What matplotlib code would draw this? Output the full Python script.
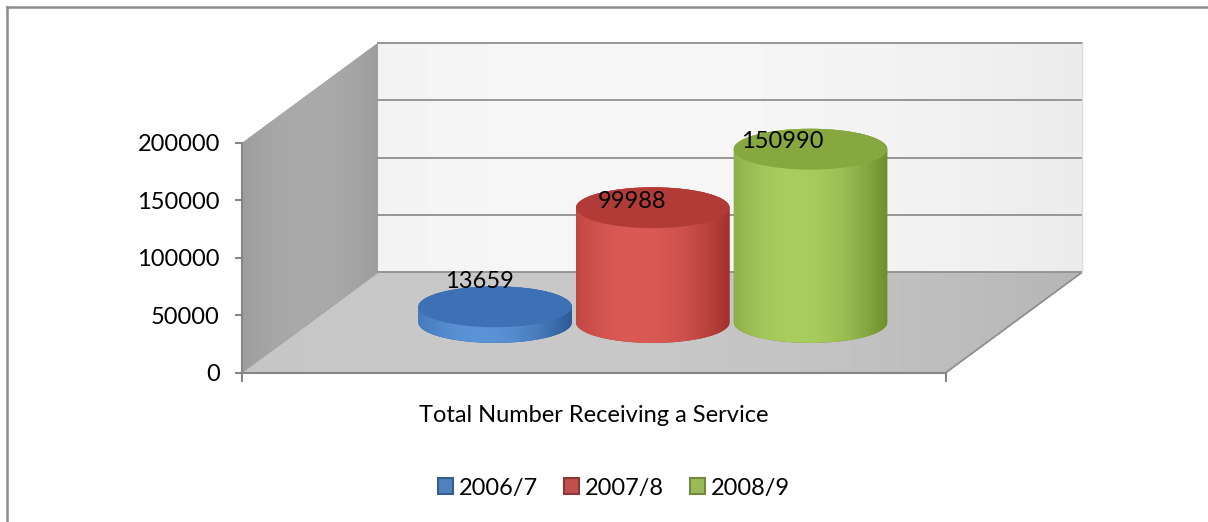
import numpy as np
import matplotlib
matplotlib.use("Agg")
import matplotlib.pyplot as plt
from matplotlib.patches import Polygon, Ellipse, Patch
from matplotlib.lines import Line2D
from matplotlib.colors import to_rgb

plt.rcParams['font.family'] = ['Lato', 'DejaVu Sans']

category = "Total Number Receiving a Service"
seasons = ["2006/7", "2007/8", "2008/9"]
totals = [13659, 99988, 150990]
yticks = [0, 50000, 100000, 150000, 200000]

top_colors = ["#3d70b4", "#b23b37", "#86a83e"]
side_dark = ["#2b5895", "#a2302d", "#6e8d2b"]
side_light = ["#5a93d6", "#db5a55", "#aacd5f"]
legend_fill = ["#4f81bd", "#c0504d", "#9bbb59"]
legend_edge = ["#385d8a", "#8c3836", "#71893f"]

W, H = 1208, 522
# front face of the plot box in pixels: left, right, value-0 row, value-max row
BOX_L, BOX_R, BOX_B, BOX_T = 242, 946, 372.5, 143

# fake 3d box: depth offset of the back plane, cylinder sizes
VMAX = yticks[-1]
DX = 0.193
DY = 0.436 * VMAX
HALF_W = 0.109
RIM = 0.089 * VMAX
STEP = 0.224
SHIFT = -0.013
label_nudge = [(-16, 25), (-21, 6), (-28, 8)]  # px
FS = 17
GRID = "#8f8f8f"

fig = plt.figure(figsize=(W / 100, H / 100), dpi=100)
ax = fig.add_axes([0, 0, 1, 1])
ax.patch.set_visible(False)
xs_px = 1 / (BOX_R - BOX_L)
ys_px = VMAX / (BOX_B - BOX_T)
XLIM = (-BOX_L * xs_px, (W - BOX_L) * xs_px)
YLIM = (-(H - BOX_B) * ys_px, BOX_B * ys_px)


def shade(verts, dark, light, peak=0.4, z=1):
    patch = Polygon(verts, closed=True, fc=dark, ec="none", zorder=z)
    ax.add_patch(patch)
    t = np.linspace(0, 1, 256)
    w = np.clip(1 - ((t - peak) / max(peak, 1 - peak)) ** 2, 0, 1)
    c0, c1 = np.array(to_rgb(dark)), np.array(to_rgb(light))
    row = c0 + (c1 - c0) * w[:, None]
    xs, ys = np.asarray(verts)[:, 0], np.asarray(verts)[:, 1]
    im = ax.imshow(row[None, :, :], extent=[xs.min(), xs.max(), ys.min(), ys.max()],
                   origin="lower", aspect="auto", interpolation="bilinear", zorder=z)
    im.set_clip_path(patch)


# walls and floor
shade([(DX, DY), (1 + DX, DY), (1 + DX, VMAX + DY), (DX, VMAX + DY)],
      "#ececec", "#f7f7f7", peak=0.35, z=1)
shade([(0, 0), (0, VMAX), (DX, VMAX + DY), (DX, DY)],
      "#9d9d9d", "#aaaaaa", peak=0.5, z=1)
shade([(0, 0), (1, 0), (1 + DX, DY), (DX, DY)],
      "#b6b6b6", "#c9c9c9", peak=0.3, z=1)

for v in yticks:
    ax.plot([DX, 1 + DX], [v + DY, v + DY], color=GRID, lw=1.3, zorder=2)
ax.plot([1, 1 + DX], [0, DY], color=GRID, lw=1.3, zorder=2)
ax.plot([1 + DX, 1 + DX], [DY, VMAX + DY], color="#dcdcdc", lw=1, zorder=2)
ax.plot([0, DX], [0, DY], color="#a3a3a3", lw=0.8, zorder=2)

# cylinders
th = np.linspace(np.pi, 2 * np.pi, 80)
for i, v in enumerate(totals):
    cx = 0.5 + SHIFT + (i - 1) * STEP + DX / 2
    base = DY / 2
    top = base + v
    lower = np.column_stack([cx + HALF_W * np.cos(th), base + RIM * np.sin(th)])
    upper = np.column_stack([cx - HALF_W * np.cos(th), top - RIM * np.sin(th)])
    side = np.vstack([[(cx - HALF_W, top)], lower, [(cx + HALF_W, top)], upper])
    z = 3 + i
    shade(side, side_dark[i], side_light[i], peak=0.4, z=z)
    ax.add_patch(Ellipse((cx, top), 2 * HALF_W, 2 * RIM, fc=top_colors[i], ec="none",
                         zorder=z + 0.5))
    dx, dy = label_nudge[i]
    ax.annotate(f"{v}", xy=(cx, top), xytext=(dx * 0.72, dy * 0.72),
                textcoords="offset points", ha="center", va="center",
                fontsize=FS, zorder=10)

ax.set_xlim(*XLIM)
ax.set_ylim(*YLIM)

for s in ["top", "right"]:
    ax.spines[s].set_visible(False)
ax.spines["left"].set_position(("data", 0))
ax.spines["left"].set_bounds(0, VMAX)
ax.spines["bottom"].set_position(("data", 0))
ax.spines["bottom"].set_bounds(0, 1)
for s in ["left", "bottom"]:
    ax.spines[s].set_color("#868686")
    ax.spines[s].set_linewidth(1.5)
    ax.spines[s].set_zorder(2.5)

ax.set_yticks(yticks)
ax.set_yticklabels([str(t) for t in yticks])
ax.tick_params(axis="y", length=5, width=1.5, color="#868686", pad=11, labelsize=FS)
ax.set_xticks([0, 1])
ax.set_xticklabels([])
ax.tick_params(axis="x", length=6.5, width=1.5, color="#868686")

ax.annotate(category, xy=(0.5, 0), xytext=(0, -43.5 * 0.72), textcoords="offset points",
            ha="center", va="center", fontsize=FS)

handles = [Patch(facecolor=legend_fill[i], edgecolor=legend_edge[i], lw=1.5, label=s)
           for i, s in enumerate(seasons)]
fig.legend(handles=handles, loc="center", bbox_to_anchor=(614 / W, 1 - 488 / H),
           ncol=3, frameon=False, fontsize=FS, handlelength=0.65, handleheight=0.65,
           handletextpad=0.25, columnspacing=1.1)

# chart area border (top and left edges)
fig.add_artist(Line2D([7 / W, 1], [1 - 7 / H] * 2, transform=fig.transFigure,
                      color="#8c8c8c", lw=1.8))
fig.add_artist(Line2D([7 / W] * 2, [0, 1 - 7 / H], transform=fig.transFigure,
                      color="#8c8c8c", lw=1.8))

fig.savefig("out.png", dpi=100)
